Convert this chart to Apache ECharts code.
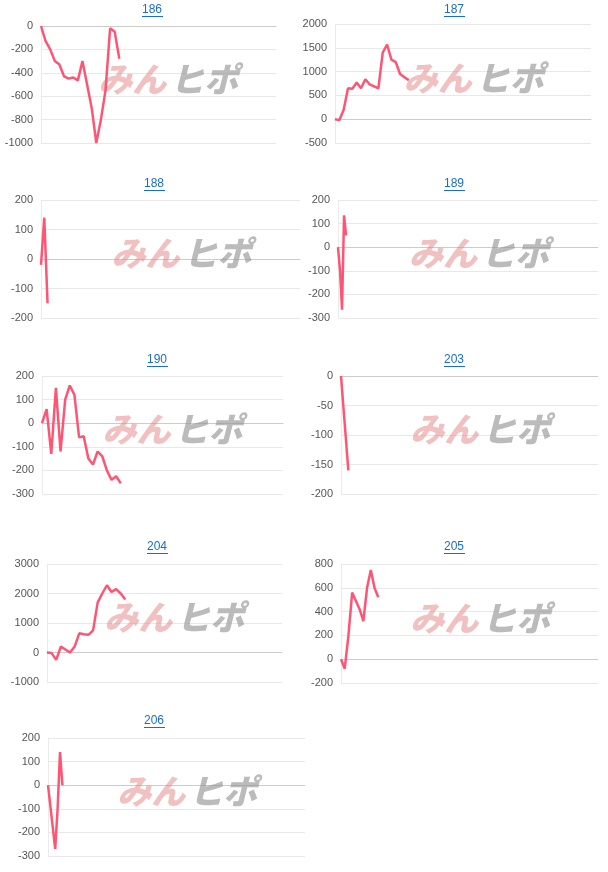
<!DOCTYPE html>
<html><head><meta charset="utf-8">
<script src="https://cdn.jsdelivr.net/npm/echarts@6/dist/echarts.min.js"></script>
<style>html,body{margin:0;padding:0;background:#fff}#c{width:608px;height:872px}</style>
</head><body><div id="c"></div>
<script>
const titles = ['186','187','188','189','190','203','204','205','206'];
const s186 = [0,-130,-200,-300,-330,-430,-450,-440,-465,-300,-500,-700,-1000,-800,-550,-20,-50,-280];
const s187 = [0,-20,200,650,640,770,650,840,730,690,650,1400,1570,1250,1200,950,880,820];
const s188 = [-20,140,-150];
const s189 = [0,-100,-265,135,50];
const s190 = [0,60,-130,150,-120,100,160,120,-60,-55,-150,-175,-120,-140,-200,-240,-225,-255];
const s203 = [0,-160];
const s204 = [0,-20,-250,200,100,0,200,650,620,600,750,1700,2000,2280,2050,2150,2000,1800];
const s205 = [0,-80,200,560,490,420,320,600,750,600,520];
const s206 = [0,-90,-180,-270,-100,140,0];
const series = [s186,s187,s188,s189,s190,s203,s204,s205,s206];
const counts = [52,60,80,130,53,36,52,70,108];
const yMin = [-1000,-500,-200,-300,-300,-200,-1000,-200,-300];
const yMax = [0,2000,200,200,200,0,3000,800,200];
const yStep = [200,500,100,100,100,50,1000,200,100];

const boxes = [
 [41,26,235,117],[335,24,256,119],
 [41,200,259,118],[338,200,260,118],
 [42,376,241,118],[341,376,257,118],
 [47,564,235,118],[341,564,257,119],
 [48,738,257,118]
];
const titleY = [10,10,184,184,360,360,547,547,721];
const titleX = [153,455,155,455,158,455,158,455,155];

const grids=[],xs=[],ys=[],ser=[],gr=[];
boxes.forEach((b,i)=>{
  grids.push({left:b[0],top:b[1],width:b[2],height:b[3]});
  xs.push({type:'category',gridIndex:i,boundaryGap:false,data:Array.from({length:counts[i]},(_,k)=>k),
    axisLine:{show:true,onZero:true,lineStyle:{color:'#ccc'}},axisTick:{show:false},axisLabel:{show:false},splitLine:{show:false}});
  ys.push({type:'value',gridIndex:i,min:yMin[i],max:yMax[i],interval:yStep[i],
    axisLine:{show:true,lineStyle:{color:'#eaeaea'}},axisTick:{show:false},
    axisLabel:{color:'#555',fontSize:11,fontFamily:'Liberation Sans',margin:8,formatter:v=>String(v)},
    splitLine:{lineStyle:{color:'#e8e8e8'}}});
  ser.push({type:'line',xAxisIndex:i,yAxisIndex:i,data:series[i],showSymbol:false,
    lineStyle:{color:'#ff5575',width:2.5},z:3});
  const cx=b[0]+b[2]*0.55, cy=b[1]+b[3]*0.46;
  gr.push({type:'text',left:cx-72,top:cy-18,z:1,style:{text:'みん',font:'italic 900 34px "Noto Sans CJK JP"',fill:'rgba(228,130,130,0.5)'}});
  gr.push({type:'text',left:cx,top:cy-18,z:1,style:{text:'ヒポ',font:'italic 900 34px "Noto Sans CJK JP"',fill:'rgba(150,150,150,0.65)'}});
  gr.push({type:'text',left:titleX[i]-11,top:titleY[i]-6,style:{text:titles[i],font:'12px "Liberation Sans"',fill:'#1a6dc8'}});
  gr.push({type:'line',shape:{x1:titleX[i]-11,y1:titleY[i]+6.5,x2:titleX[i]+10,y2:titleY[i]+6.5},style:{stroke:'#1a6dc8',lineWidth:1}});
});
const chart=echarts.init(document.getElementById('c'));
chart.setOption({animation:false,grid:grids,xAxis:xs,yAxis:ys,series:ser,graphic:gr});
</script></body></html>
